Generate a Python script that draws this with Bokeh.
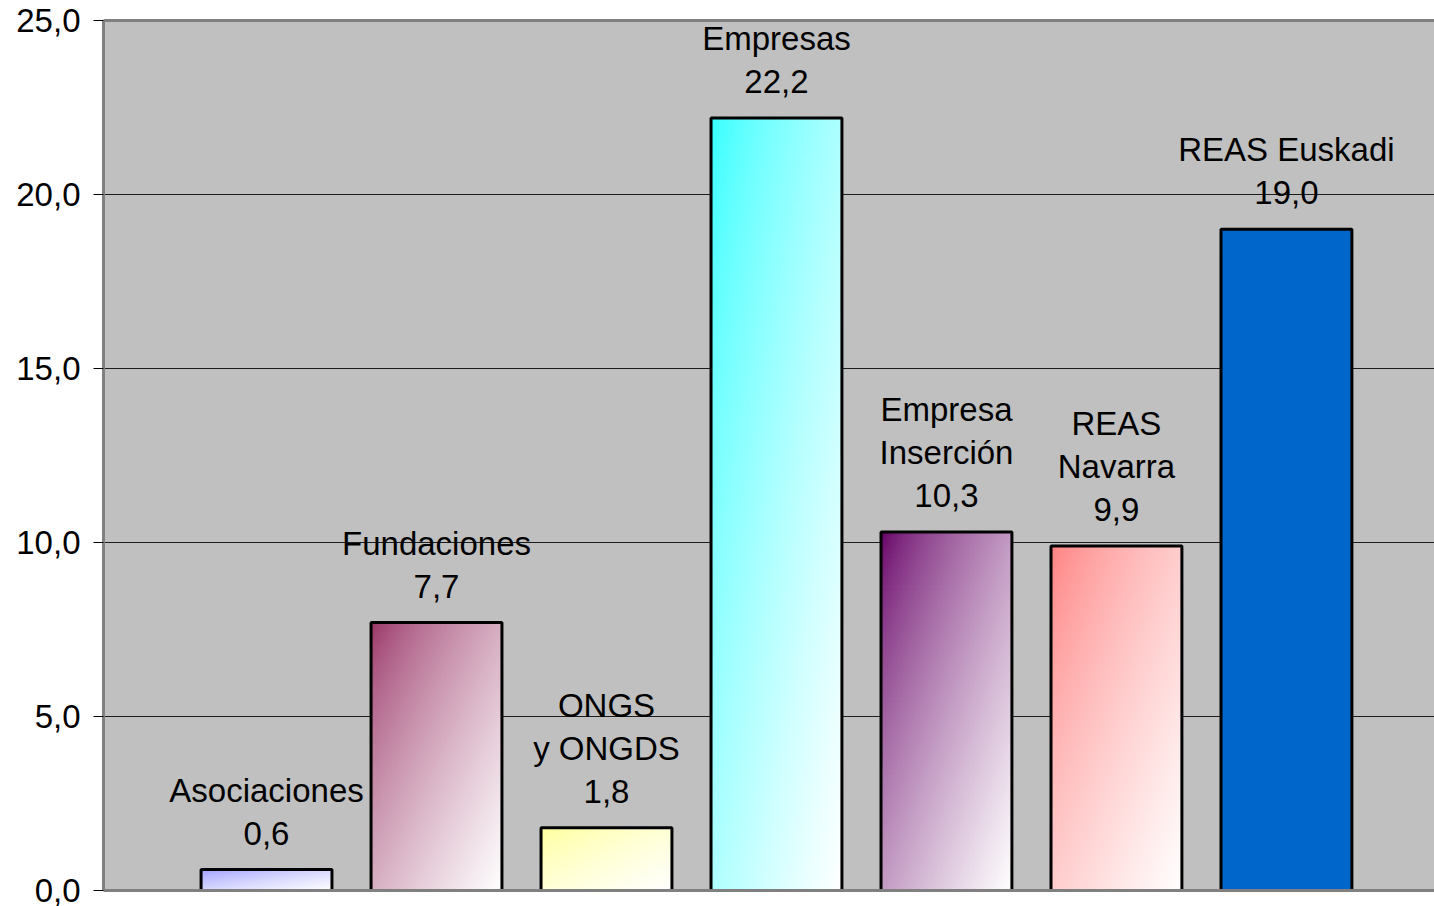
import numpy as np
from bokeh.plotting import figure
from bokeh.models import ColumnDataSource, FixedTicker, Range1d, LinearAxis
from bokeh.core.properties import value
from bokeh.embed import file_html
from bokeh.resources import INLINE

categories = ["Asociaciones", "Fundaciones", "ONGS\ny ONGDS", "Empresas",
              "Empresa\nInserción", "REAS\nNavarra", "REAS Euskadi"]
values = [0.6, 7.7, 1.8, 22.2, 10.3, 9.9, 19.0]
start_colors = ["#9999FF", "#993366", "#FFFF99", "#33FFFF", "#660066", "#FF8080", "#0066CC"]
gradient = [True, True, True, True, True, True, False]
y_ticks = [0, 5, 10, 15, 20, 25]
y_tick_labels = ["0,0", "5,0", "10,0", "15,0", "20,0", "25,0"]

FONT = "Liberation Sans"
BAR_W = 0.77

xs = list(range(len(categories)))
label_texts = [f"{c}\n{v:.1f}".replace(".", ",") for c, v in zip(categories, values)]

p = figure(width=1434, height=906, output_backend="svg", toolbar_location=None,
           x_range=Range1d(-0.959, 6.871), y_range=Range1d(0, 25),
           min_border_left=103, min_border_right=0, min_border_top=20, min_border_bottom=16)
p.background_fill_color = "#C0C0C0"
p.border_fill_color = "white"
p.outline_line_color = None

# bottom and top frame lines (no right border: the plot area runs past the edge)
bottom_axis = p.xaxis[0]
bottom_axis.ticker = FixedTicker(ticks=[])
bottom_axis.axis_line_color = "#808080"
bottom_axis.axis_line_width = 3
bottom_axis.major_tick_line_color = None
bottom_axis.minor_tick_line_color = None
top_axis = LinearAxis(ticker=FixedTicker(ticks=[]), axis_line_color="#808080",
                      axis_line_width=3, major_tick_line_color=None,
                      minor_tick_line_color=None)
p.add_layout(top_axis, "above")

p.xgrid.visible = False
p.ygrid.grid_line_color = "#000000"
p.ygrid.grid_line_width = 1
p.ygrid.grid_line_alpha = 0.85

p.yaxis.ticker = FixedTicker(ticks=y_ticks)
p.yaxis.major_label_overrides = {t: l for t, l in zip(y_ticks, y_tick_labels)}
p.yaxis.minor_tick_line_color = None
p.yaxis.major_tick_out = 10
p.yaxis.major_tick_in = 0
p.yaxis.major_tick_line_color = "black"
p.yaxis.axis_line_color = "#808080"
p.yaxis.axis_line_width = 3
p.yaxis.major_label_text_font = FONT
p.yaxis.major_label_text_font_size = "33px"
p.yaxis.major_label_text_color = "black"
p.yaxis.major_label_standoff = 13


def hex_rgb(h):
    h = h.lstrip("#")
    return np.array([int(h[i:i + 2], 16) for i in (0, 2, 4)], dtype=float)


n = 80
u = np.linspace(0, 1, n)[None, :]
w = 1 - np.linspace(0, 1, n)[:, None]  # 0 at top row (last), 1 at bottom
t = np.clip((u + w) / 2.0, 0, 1) ** 0.72

for x, v, col, g in zip(xs, values, start_colors, gradient):
    c0 = hex_rgb(col)
    if g:
        rgb = c0[None, None, :] * (1 - t[..., None]) + 255.0 * t[..., None]
    else:
        rgb = np.broadcast_to(c0, (n, n, 3)).copy()
    img = np.empty((n, n), dtype=np.uint32)
    view = img.view(dtype=np.uint8).reshape((n, n, 4))
    view[..., 0] = rgb[..., 0].astype(np.uint8)
    view[..., 1] = rgb[..., 1].astype(np.uint8)
    view[..., 2] = rgb[..., 2].astype(np.uint8)
    view[..., 3] = 255
    p.image_rgba(image=[img], x=x - BAR_W / 2, y=0, dw=BAR_W, dh=v)

src = ColumnDataSource(dict(x=xs, top=values, label=label_texts))
p.vbar(x="x", top="top", bottom=0, width=BAR_W, source=src,
       fill_color=None, line_color="black", line_width=3)

p.text(x="x", y="top", text="label", source=src, text_align="center",
       text_baseline="bottom", y_offset=-18, text_font=value(FONT),
       text_font_size="33px", text_line_height=1.16, text_color="black")

open("out.html", "w").write(file_html(p, INLINE))
